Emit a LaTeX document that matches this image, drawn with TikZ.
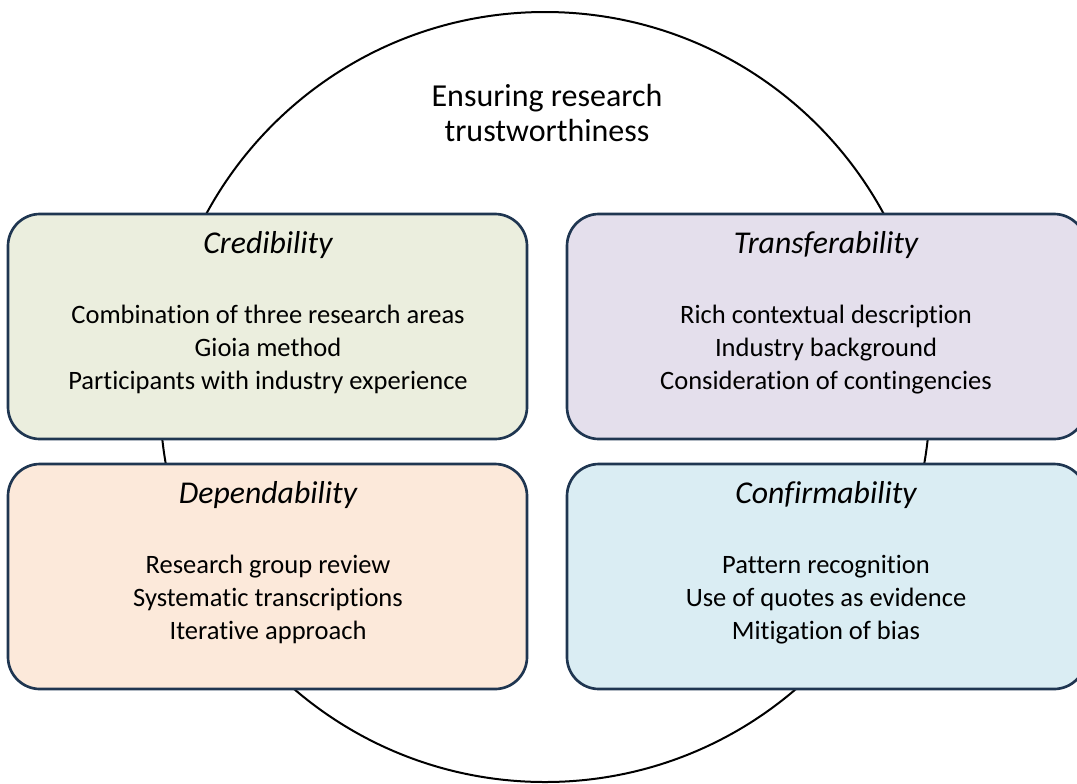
\documentclass[tikz,border=0pt]{standalone}
\usepackage{fontspec}
\setmainfont{Carlito}[Ligatures=NoCommon]
\definecolor{panelline}{HTML}{1F3651}
\definecolor{credfill}{HTML}{EBEEDE}
\definecolor{transfill}{HTML}{E4DFEC}
\definecolor{depfill}{HTML}{FCE9DA}
\definecolor{conffill}{HTML}{DAEDF3}
\begin{document}
\begin{tikzpicture}[x=0.75pt,y=-0.75pt,
  panel/.style={draw=panelline, line width=2pt, rounded corners=24pt,
    minimum width=389.25pt, minimum height=168.75pt, inner sep=0pt},
  heading/.style={font=\fontsize{23.8}{26}\selectfont\itshape, anchor=base, inner sep=0pt},
  points/.style={font=\fontsize{19.9}{24.4}\selectfont, align=center, anchor=base, inner sep=0pt},
  caption/.style={font=\fontsize{24}{26.25}\selectfont, align=center, anchor=base, inner sep=0pt}]
\useasboundingbox (0,0) rectangle (1077,783);
\clip (0,0) rectangle (1077,783);

% the enclosing ring
\node[circle, draw=black, line width=1.5pt, minimum size=577.5pt, inner sep=0pt] (ring) at (545,397) {};
% base anchor of a multi-line node sits on its last line
\node[caption] (title) at (547,141.7) {Ensuring research\\trustworthiness};

% the four criteria
\node[panel, fill=credfill]  (cred)  at (267.5,326.5) {};
\node[panel, fill=transfill] (trans) at (826.5,326.5) {};
\node[panel, fill=depfill]   (dep)   at (267.5,576.5) {};
\node[panel, fill=conffill]  (conf)  at (826.5,576.5) {};

\node[heading] (credh)  at (268,253) {Credibility};
\node[heading] (transh) at (826,253) {Transferability};
\node[heading] (deph)   at (268,503) {Dependability};
\node[heading] (confh)  at (826,503) {Confirmability};

\node[points] (credp) at (268,389) {Combination of three research areas\\Gioia method\\Participants with industry experience};
\node[points] (transp) at (826,389) {Rich contextual description\\Industry background\\Consideration of contingencies};
\node[points] (depp) at (268,639) {Research group review\\Systematic transcriptions\\Iterative approach};
\node[points] (confp) at (826,639) {Pattern recognition\\Use of quotes as evidence\\Mitigation of bias};
\end{tikzpicture}
\end{document}
